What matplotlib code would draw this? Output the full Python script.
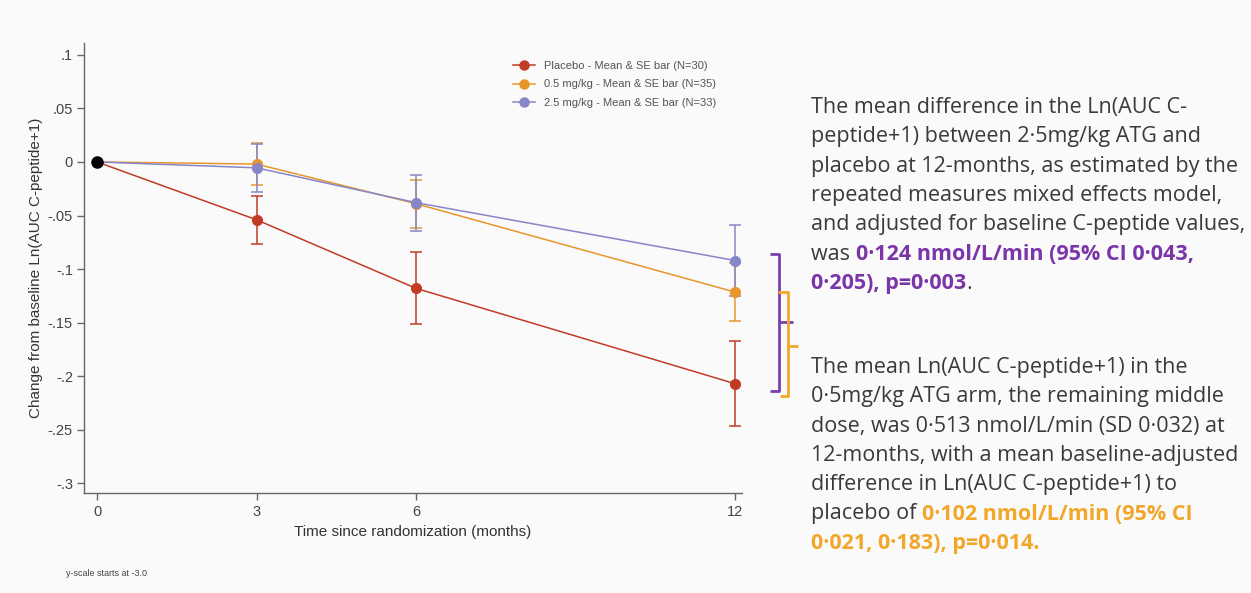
import matplotlib
matplotlib.use("Agg")
import matplotlib.pyplot as plt
from matplotlib.lines import Line2D
from matplotlib.ticker import FixedLocator, FuncFormatter

plt.rcParams["font.family"] = ["Liberation Sans", "DejaVu Sans"]

# ---------------- data ----------------
months = [0, 3, 6, 12]
placebo_mean = [0.0, -0.054, -0.118, -0.207]
placebo_se = [0.0, 0.0225, 0.0335, 0.0395]
low_mean = [0.0, -0.002, -0.039, -0.1215]
low_se = [0.0, 0.0195, 0.0225, 0.027]
high_mean = [0.0, -0.0055, -0.038, -0.092]
high_se = [0.0, 0.0225, 0.026, 0.033]
series_labels = ["Placebo - Mean & SE bar (N=30)",
                 "0.5 mg/kg - Mean & SE bar (N=35)",
                 "2.5 mg/kg - Mean & SE bar (N=33)"]
yticks = [0.1, 0.05, 0.0, -0.05, -0.1, -0.15, -0.2, -0.25, -0.3]

RED = "#c23b25"
ORANGE = "#e8962c"
PURPLE = "#8686c9"
TXT = "#3a3a3a"
TXT_PURPLE = "#7a35a8"
TXT_ORANGE = "#f2a72a"
BG = "#fafafa"

W, H = 1251, 593
fig = plt.figure(figsize=(W / 100, H / 100), dpi=100, facecolor=BG)

def fx(x):
    return x / W

def fy(y):
    return 1 - y / H

# axes placement (pixels)
ax_l, ax_r, ax_t, ax_b = 84, 742, 43, 493
ax = fig.add_axes([fx(ax_l), fy(ax_b), fx(ax_r - ax_l), (ax_b - ax_t) / H])
ax.set_facecolor(BG)
ax.set_xlim(-0.245, 12.13)
ax.set_ylim(-0.309, 0.111)

for sp in ["top", "right"]:
    ax.spines[sp].set_visible(False)
for sp in ["left", "bottom"]:
    ax.spines[sp].set_color("#666666")
    ax.spines[sp].set_linewidth(1.0)

series = [(placebo_mean, placebo_se, RED),
          (low_mean, low_se, ORANGE),
          (high_mean, high_se, PURPLE)]
handles = []
for (m, se, c), lab in zip(series, series_labels):
    ax.plot(months, m, color=c, lw=1.1, zorder=2)
    ax.errorbar(months[1:], m[1:], yerr=se[1:], fmt="o", color=c, ms=7,
                elinewidth=1.1, capsize=4.5, capthick=1.1, zorder=3)
    handles.append(Line2D([0], [0], color=c, lw=1.1, marker="o", ms=6.5))
ax.plot([months[0]], [placebo_mean[0]], "o", color="black", ms=8, zorder=5)

ax.xaxis.set_major_locator(FixedLocator(months))
ax.yaxis.set_major_locator(FixedLocator(yticks))

def yfmt(v, pos):
    if abs(v) < 1e-9:
        return "0"
    s = ("%g" % v)
    s = s.replace("0.", ".")
    return s

ax.yaxis.set_major_formatter(FuncFormatter(yfmt))
ax.tick_params(axis="both", direction="out", length=5, width=1, color="#666666",
               labelcolor="#444444", labelsize=10.5)
ax.tick_params(axis="x", pad=4)
ax.tick_params(axis="y", pad=3)

ax.set_xlabel("Time since randomization (months)", fontsize=11, color="#333333", labelpad=4)
ax.set_ylabel("Change from baseline Ln(AUC C-peptide+1)", fontsize=11, color="#333333", labelpad=3)

leg = ax.legend(handles, series_labels, loc="upper left",
                bbox_to_anchor=((507 - ax_l) / (ax_r - ax_l), (493 - 55) / (ax_b - ax_t)),
                frameon=False, fontsize=8, handlelength=2.0, handletextpad=0.8,
                labelspacing=0.8, borderpad=0, labelcolor="#555555")

fig.text(fx(66), fy(576), "y-scale starts at -3.0", fontsize=6.5, color="#444444",
         va="baseline", ha="left")

# ---------------- annotation brackets ----------------
def fline(xs, ys, color, lw=2.0):
    fig.add_artist(Line2D([fx(x) for x in xs], [fy(y) for y in ys],
                          transform=fig.transFigure, color=color, lw=lw,
                          solid_joinstyle="round", solid_capstyle="butt"))

fline([770, 779, 779, 770], [254, 254, 391, 391], "#7b3fb0")
fline([779, 793], [322, 322], "#7b3fb0")
fline([778, 788, 788, 780], [292, 292, 396, 396], "#f2a72a")
fline([788, 798], [346, 346], "#f2a72a")

# ---------------- right text ----------------
TFONT = ["Open Sans", "DejaVu Sans"]
TSIZE = 15.5
fig.canvas.draw()
renderer = fig.canvas.get_renderer()

def text_line(x0, ybase, parts):
    x = x0
    for s, col, bold in parts:
        t = fig.text(fx(x), fy(ybase), s, fontsize=TSIZE, color=col,
                     family=TFONT, weight="bold" if bold else "normal",
                     va="baseline", ha="left")
        bb = t.get_window_extent(renderer=renderer)
        x += bb.width

para1 = [
    [("The mean difference in the Ln(AUC C-", TXT, False)],
    [("peptide+1) between 2·5mg/kg ATG and", TXT, False)],
    [("placebo at 12-months, as estimated by the", TXT, False)],
    [("repeated measures mixed effects model,", TXT, False)],
    [("and adjusted for baseline C-peptide values,", TXT, False)],
    [("was ", TXT, False), ("0·124 nmol/L/min (95% CI 0·043,", TXT_PURPLE, True)],
    [("0·205), p=0·003", TXT_PURPLE, True), (".", TXT, False)],
]
para2 = [
    [("The mean Ln(AUC C-peptide+1) in the", TXT, False)],
    [("0·5mg/kg ATG arm, the remaining middle", TXT, False)],
    [("dose, was 0·513 nmol/L/min (SD 0·032) at", TXT, False)],
    [("12-months, with a mean baseline-adjusted", TXT, False)],
    [("difference in Ln(AUC C-peptide+1) to", TXT, False)],
    [("placebo of ", TXT, False), ("0·102 nmol/L/min (95% CI", TXT_ORANGE, True)],
    [("0·021, 0·183), p=0·014.", TXT_ORANGE, True)],
]
LS = 29.3
for i, parts in enumerate(para1):
    text_line(811, 113 + i * LS, parts)
for i, parts in enumerate(para2):
    text_line(811, 373 + i * LS, parts)

fig.savefig("out.png", dpi=100, facecolor=BG)
